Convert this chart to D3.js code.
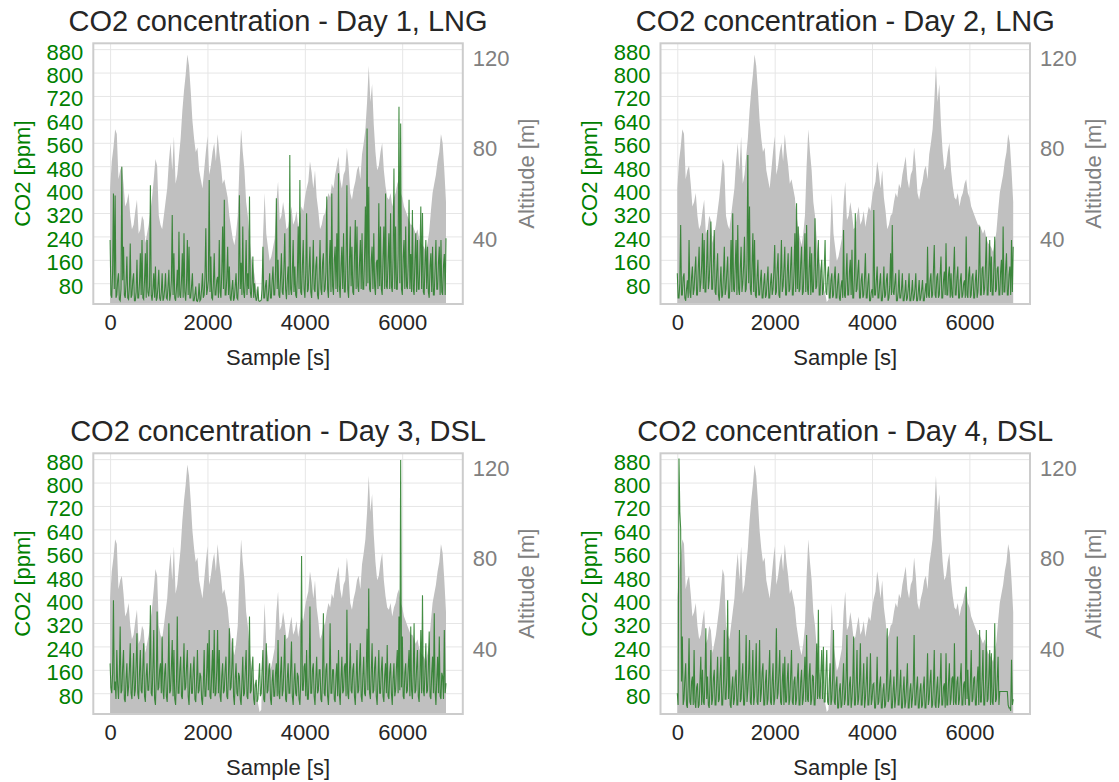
<!DOCTYPE html>
<html>
<head>
<meta charset="utf-8">
<style>
  body { margin: 0; background: #fff; }
  text { font-family: "Liberation Sans", Arial, sans-serif; }
</style>
</head>
<body></body>

<script src="https://d3js.org/d3.v7.min.js"></script>
<script>
    // altitude of the route [m], one value every altStep seconds (same route every day)
    const altitude = [62, 74, 80, 88, 86, 66, 70, 72, 64, 54, 56, 60, 50, 44, 46, 52, 57, 42, 44, 50,
        48, 38, 42, 46, 52, 58, 66, 75, 72, 50, 46, 44, 50, 56, 62, 74, 82, 70, 85, 64,
        68, 76, 84, 96, 105, 112, 121, 116, 105, 92, 84, 78, 80, 70, 66, 62, 70, 78, 85, 68,
        72, 78, 82, 74, 86, 78, 72, 64, 66, 62, 58, 50, 45, 40, 37, 42, 50, 72, 88, 78,
        70, 56, 50, 40, 32, 28, 24, 18, 16, 12, 13, 40, 60, 42, 36, 30, 32, 36, 40, 56,
        65, 48, 50, 56, 51, 44, 45, 50, 54, 46, 48, 52, 45, 50, 54, 52, 58, 62, 65, 74,
        69, 62, 70, 58, 52, 44, 46, 50, 51, 56, 60, 58, 64, 62, 68, 72, 76, 66, 62, 68,
        70, 80, 72, 60, 57, 62, 65, 70, 72, 66, 77, 82, 88, 100, 116, 100, 108, 90, 78, 70,
        72, 78, 82, 70, 63, 58, 57, 60, 54, 58, 60, 64, 66, 60, 58, 54, 52, 50, 48, 46,
        46, 44, 42, 44, 40, 38, 37, 36, 34, 38, 43, 52, 60, 64, 68, 74, 78, 86, 82, 70,
        56];
    const altStep = 34.5;

    // CO2 [ppm], one value every co2Step seconds
    const co2Day1 = [228, 40, 30, 120, 387, 60, 380, 30, 40, 90, 114, 25, 20, 60, 478, 90, 205, 40, 30, 80,
        171, 30, 25, 70, 216, 30, 40, 90, 114, 20, 20, 50, 160, 30, 30, 80, 182, 40, 228, 30,
        25, 90, 182, 30, 228, 50, 35, 70, 415, 40, 20, 60, 114, 30, 137, 20, 30, 70, 126, 30,
        20, 50, 114, 20, 30, 60, 114, 30, 25, 70, 126, 20, 40, 90, 313, 40, 182, 30, 20, 60,
        126, 30, 256, 40, 30, 90, 182, 30, 251, 50, 20, 80, 228, 40, 205, 30, 30, 70, 114, 20,
        20, 40, 69, 20, 18, 30, 80, 20, 25, 60, 114, 30, 40, 100, 268, 40, 60, 90, 433, 50,
        171, 30, 25, 80, 182, 40, 40, 90, 102, 30, 228, 50, 30, 120, 274, 60, 365, 40, 40, 100,
        205, 40, 137, 30, 20, 60, 91, 20, 30, 70, 114, 30, 25, 90, 381, 60, 150, 40, 274, 50,
        30, 90, 228, 40, 114, 60, 376, 50, 30, 80, 171, 30, 80, 40, 20, 30, 69, 20, 18, 20,
        23, 60, 205, 30, 30, 70, 91, 20, 20, 60, 114, 30, 30, 90, 137, 40, 40, 120, 370, 60,
        160, 40, 30, 100, 182, 50, 40, 130, 251, 60, 25, 90, 137, 40, 518, 60, 40, 120, 228, 50,
        137, 40, 30, 110, 274, 60, 433, 50, 40, 140, 228, 60, 30, 120, 319, 50, 60, 130, 205, 50,
        30, 110, 228, 60, 50, 140, 171, 40, 25, 100, 228, 60, 40, 150, 182, 50, 60, 120, 376, 60,
        30, 140, 228, 50, 387, 70, 40, 160, 205, 60, 251, 50, 456, 70, 30, 140, 205, 60, 251, 50,
        50, 160, 415, 60, 30, 150, 274, 70, 205, 50, 40, 170, 296, 60, 274, 70, 50, 150, 228, 60,
        251, 60, 60, 170, 342, 70, 609, 80, 410, 60, 50, 160, 205, 60, 251, 70, 40, 150, 160, 60,
        353, 70, 274, 60, 40, 170, 274, 60, 387, 70, 60, 160, 251, 60, 319, 70, 50, 170, 472, 60,
        274, 60, 60, 180, 683, 80, 626, 60, 40, 170, 228, 60, 274, 70, 60, 150, 365, 60, 180, 50,
        330, 60, 40, 160, 251, 50, 228, 60, 60, 170, 342, 60, 320, 50, 40, 150, 228, 60, 205, 50,
        30, 140, 182, 50, 205, 40, 40, 130, 228, 60, 60, 150, 205, 40, 228, 50, 40, 140, 180, 40,
        234];
    const co2Day2 = [114, 30, 30, 80, 279, 40, 40, 100, 114, 30, 20, 60, 90, 30, 228, 50, 30, 100, 137, 40,
        60, 120, 171, 40, 40, 130, 205, 50, 80, 140, 251, 60, 228, 50, 50, 150, 262, 60, 90, 160,
        291, 60, 60, 150, 262, 50, 40, 120, 182, 40, 20, 80, 137, 30, 40, 110, 205, 40, 60, 120,
        171, 30, 30, 100, 228, 50, 319, 60, 50, 140, 228, 40, 279, 60, 40, 130, 205, 50, 80, 140,
        239, 50, 60, 150, 518, 80, 342, 60, 40, 140, 251, 50, 228, 40, 30, 100, 160, 40, 40, 90,
        126, 30, 30, 80, 114, 30, 40, 90, 137, 30, 30, 80, 114, 40, 60, 120, 211, 40, 50, 130,
        182, 40, 30, 110, 228, 50, 70, 130, 205, 40, 40, 120, 182, 50, 60, 140, 205, 40, 40, 120,
        251, 50, 353, 60, 274, 50, 60, 150, 205, 40, 50, 140, 251, 50, 279, 60, 40, 130, 205, 40,
        182, 50, 50, 140, 302, 60, 70, 150, 228, 40, 40, 120, 160, 40, 60, 130, 228, 50, 40, 110,
        137, 30, 30, 90, 114, 30, 40, 100, 137, 30, 30, 80, 114, 30, 20, 70, 90, 30, 262, 40,
        30, 100, 182, 40, 40, 120, 160, 40, 194, 30, 30, 110, 319, 50, 60, 120, 160, 30, 30, 90,
        114, 30, 40, 100, 182, 30, 30, 80, 114, 20, 20, 50, 60, 30, 330, 40, 40, 90, 137, 30,
        30, 80, 114, 20, 20, 60, 137, 30, 40, 90, 114, 20, 30, 70, 182, 40, 279, 50, 40, 80,
        114, 20, 20, 50, 126, 30, 30, 60, 114, 20, 20, 50, 91, 20, 30, 60, 114, 20, 20, 50,
        91, 20, 30, 60, 114, 20, 20, 50, 91, 20, 30, 60, 91, 20, 20, 50, 80, 30, 205, 40,
        30, 90, 114, 30, 40, 120, 211, 40, 30, 100, 114, 30, 40, 110, 171, 30, 30, 90, 120, 40,
        217, 40, 40, 110, 137, 30, 114, 40, 30, 120, 205, 40, 40, 100, 137, 30, 30, 90, 114, 30,
        40, 80, 90, 30, 240, 40, 30, 110, 137, 30, 40, 100, 114, 30, 30, 90, 126, 30, 50, 120,
        274, 40, 40, 130, 137, 40, 60, 140, 239, 40, 40, 130, 228, 50, 171, 40, 40, 140, 239, 50,
        60, 130, 137, 40, 40, 120, 160, 40, 274, 50, 50, 130, 182, 40, 40, 110, 137, 40, 228, 50,
        205];
    const co2Day3 = [182, 100, 80, 150, 398, 90, 120, 60, 228, 110, 60, 140, 308, 80, 90, 170, 228, 60, 50, 130,
        182, 70, 100, 160, 251, 80, 60, 140, 217, 70, 90, 180, 285, 80, 60, 150, 228, 90, 80, 170,
        251, 70, 50, 140, 182, 90, 90, 160, 381, 80, 70, 170, 296, 60, 40, 130, 359, 90, 100, 160,
        182, 80, 274, 90, 60, 150, 182, 70, 50, 140, 319, 80, 90, 170, 262, 70, 228, 60, 40, 120,
        342, 80, 80, 160, 205, 70, 60, 150, 251, 90, 100, 170, 228, 70, 40, 130, 182, 80, 80, 160,
        205, 60, 50, 120, 228, 80, 90, 150, 137, 60, 40, 110, 228, 70, 70, 150, 251, 90, 296, 70,
        60, 150, 228, 80, 296, 70, 80, 160, 296, 80, 228, 70, 50, 140, 182, 80, 90, 160, 205, 70,
        60, 150, 302, 90, 100, 170, 268, 70, 40, 130, 182, 80, 70, 150, 137, 60, 40, 120, 205, 70,
        80, 160, 228, 70, 60, 150, 342, 80, 90, 170, 205, 60, 40, 110, 126, 50, 60, 130, 182, 70,
        80, 160, 228, 60, 50, 130, 251, 80, 90, 160, 182, 60, 40, 120, 160, 70, 70, 150, 182, 70,
        262, 80, 60, 150, 205, 70, 90, 170, 279, 60, 50, 130, 182, 80, 80, 160, 257, 70, 40, 120,
        182, 80, 70, 150, 137, 60, 40, 120, 549, 90, 90, 170, 182, 70, 228, 60, 60, 140, 376, 80,
        80, 160, 182, 70, 40, 130, 205, 80, 90, 160, 160, 60, 50, 140, 353, 80, 70, 160, 182, 70,
        40, 130, 319, 80, 80, 160, 160, 60, 50, 140, 182, 70, 228, 80, 40, 130, 205, 80, 90, 170,
        182, 70, 365, 80, 60, 150, 251, 90, 80, 160, 182, 70, 40, 130, 228, 80, 90, 170, 251, 70,
        50, 140, 205, 80, 70, 160, 300, 90, 438, 80, 60, 150, 251, 80, 90, 170, 205, 70, 40, 130,
        228, 80, 80, 160, 205, 70, 50, 140, 182, 80, 245, 70, 60, 150, 182, 80, 40, 130, 182, 70,
        90, 170, 228, 80, 342, 90, 877, 100, 274, 70, 60, 150, 182, 80, 90, 170, 228, 70, 308, 90,
        60, 150, 319, 80, 90, 170, 228, 70, 50, 140, 296, 80, 415, 90, 70, 160, 251, 80, 90, 170,
        291, 70, 60, 150, 205, 80, 353, 90, 40, 130, 205, 80, 274, 70, 60, 150, 137, 60, 296, 80,
        114];
    const co2Day4 = [80, 40, 882, 700, 643, 120, 274, 40, 60, 130, 182, 40, 30, 110, 268, 50, 40, 120, 137, 40,
        228, 50, 30, 100, 114, 30, 40, 120, 205, 40, 160, 50, 40, 130, 302, 60, 137, 40, 30, 110,
        228, 40, 60, 130, 160, 40, 40, 120, 205, 50, 60, 140, 205, 40, 40, 120, 296, 60, 60, 140,
        398, 60, 205, 40, 30, 100, 137, 40, 60, 130, 160, 40, 40, 120, 296, 50, 60, 130, 182, 40,
        40, 120, 279, 50, 90, 150, 262, 50, 40, 130, 228, 40, 70, 140, 251, 50, 40, 120, 262, 50,
        80, 150, 182, 40, 40, 120, 160, 40, 60, 140, 228, 50, 40, 120, 182, 40, 60, 130, 302, 60,
        80, 150, 228, 50, 40, 120, 182, 40, 205, 50, 50, 130, 182, 40, 60, 140, 228, 50, 40, 120,
        137, 40, 60, 130, 182, 40, 40, 120, 160, 40, 60, 130, 205, 50, 279, 60, 50, 140, 182, 40,
        60, 140, 137, 40, 40, 130, 250, 60, 365, 70, 60, 150, 228, 60, 239, 50, 50, 150, 228, 50,
        40, 120, 182, 40, 60, 130, 296, 50, 40, 110, 137, 30, 30, 90, 114, 30, 40, 110, 182, 40,
        60, 130, 279, 40, 40, 110, 137, 30, 60, 120, 274, 40, 40, 110, 228, 40, 60, 120, 251, 40,
        40, 110, 182, 30, 60, 120, 205, 40, 40, 100, 217, 40, 60, 110, 114, 30, 30, 90, 205, 40,
        50, 110, 137, 30, 30, 90, 114, 30, 40, 100, 302, 50, 60, 120, 160, 30, 30, 90, 137, 30,
        60, 110, 274, 40, 40, 100, 160, 30, 30, 90, 137, 30, 50, 110, 182, 30, 30, 90, 114, 30,
        60, 110, 279, 40, 40, 100, 137, 30, 30, 90, 114, 30, 40, 100, 137, 30, 30, 90, 217, 40,
        60, 120, 160, 30, 40, 110, 228, 40, 30, 100, 137, 30, 50, 120, 217, 40, 40, 100, 114, 30,
        217, 40, 40, 120, 182, 40, 60, 130, 137, 40, 251, 50, 40, 120, 137, 40, 60, 130, 182, 40,
        40, 110, 120, 40, 444, 60, 160, 40, 40, 120, 228, 50, 60, 130, 137, 40, 40, 120, 171, 40,
        296, 50, 50, 130, 228, 40, 40, 120, 296, 50, 60, 140, 228, 40, 217, 50, 40, 120, 319, 50,
        60, 130, 205, 40, 86, 86, 86, 86, 86, 86, 86, 86, 86, 86, 40, 30, 30, 20, 194, 40,
        60];
    const co2Step = 17.25;

    const titles = ["CO2 concentration - Day 1, LNG", "CO2 concentration - Day 2, LNG",
        "CO2 concentration - Day 3, DSL", "CO2 concentration - Day 4, DSL"];
    const co2Ticks = [80, 160, 240, 320, 400, 480, 560, 640, 720, 800, 880];
    const altTicks = [40, 80, 120];
    const sampleTicks = [0, 2000, 4000, 6000];

    const width = 1119;
    const height = 782;
    const panelW = 369.5;
    const panelH = 260.7;
    const panels = [
        { x: 93.3, y: 43.3, co2: co2Day1 },
        { x: 660.5, y: 43.3, co2: co2Day2 },
        { x: 93.3, y: 453.3, co2: co2Day3 },
        { x: 660.5, y: 453.3, co2: co2Day4 }
    ];

    var x_scale = d3.scaleLinear().domain([-345, 7245]).range([0, panelW]);
    var co2_scale = d3.scaleLinear().domain([9, 900]).range([panelH, 0]);
    var alt_scale = d3.scaleLinear().domain([11.1, 125.9]).range([panelH, 0]);

    var svg = d3.select("body")
        .append("svg")
        .attr("width", width)
        .attr("height", height);

    var altArea = d3.area()
        .x(function (d, i) { return x_scale(i * altStep); })
        .y0(panelH)
        .y1(function (d) { return alt_scale(d); });
    var co2Line = d3.line()
        .x(function (d, i) { return x_scale(i * co2Step); })
        .y(function (d) { return co2_scale(d); });

    panels.forEach(function (p, i) {
        var g = svg.append("g")
            .attr("transform", "translate(" + p.x + "," + p.y + ")");

        g.append("clipPath").attr("id", "clip" + i)
            .append("rect").attr("width", panelW).attr("height", panelH);

        // grid
        g.append("g").attr("class", "grid")
            .call(d3.axisLeft(co2_scale).tickValues(co2Ticks).tickSize(-panelW).tickFormat(""));
        g.append("g").attr("class", "grid")
            .attr("transform", "translate(0," + panelH + ")")
            .call(d3.axisBottom(x_scale).tickValues(sampleTicks).tickSize(-panelH).tickFormat(""));
        g.selectAll(".grid .domain").remove();
        g.selectAll(".grid line").attr("stroke", "#e6e6e6").attr("stroke-width", 1);

        // altitude (grey) and CO2 (green)
        g.append("path")
            .datum(altitude)
            .attr("clip-path", "url(#clip" + i + ")")
            .attr("fill", "#c0c0c0")
            .attr("d", altArea);
        g.append("path")
            .datum(p.co2)
            .attr("clip-path", "url(#clip" + i + ")")
            .attr("fill", "none")
            .attr("stroke", "#237a23")
            .attr("stroke-opacity", 0.85)
            .attr("stroke-width", 1.1)
            .attr("stroke-linejoin", "miter")
            .attr("d", co2Line);

        // frame
        g.append("rect")
            .attr("width", panelW).attr("height", panelH)
            .attr("fill", "none").attr("stroke", "#cccccc").attr("stroke-width", 2);

        // axes
        var left = g.append("g")
            .call(d3.axisLeft(co2_scale).tickValues(co2Ticks).tickSize(0).tickPadding(10));
        left.selectAll("text").attr("fill", "green").style("font-size", "22px").attr("dy", "0.45em");

        var right = g.append("g")
            .attr("transform", "translate(" + panelW + ",0)")
            .call(d3.axisRight(alt_scale).tickValues(altTicks).tickSize(0).tickPadding(10));
        right.selectAll("text").attr("fill", "#808080").style("font-size", "22px").attr("dy", "0.38em");

        var bottom = g.append("g")
            .attr("transform", "translate(0," + panelH + ")")
            .call(d3.axisBottom(x_scale).tickValues(sampleTicks).tickSize(0).tickPadding(10.5).tickFormat(d3.format("d")));
        bottom.selectAll("text").attr("fill", "#262626").style("font-size", "22px");

        svg.selectAll(".domain").remove();

        // texts
        g.append("text")
            .attr("x", panelW / 2).attr("y", -12)
            .style("text-anchor", "middle")
            .style("font-size", "29px")
            .attr("fill", "#262626")
            .text(titles[i]);
        g.append("text")
            .attr("x", panelW / 2).attr("y", panelH + 61)
            .style("text-anchor", "middle")
            .style("font-size", "22px")
            .attr("fill", "#262626")
            .text("Sample [s]");
        g.append("text")
            .attr("transform", "translate(-71," + panelH / 2 + ") rotate(-90)")
            .attr("dy", "0.35em")
            .style("text-anchor", "middle")
            .style("font-size", "22px")
            .attr("fill", "green")
            .text("CO2 [ppm]");
        g.append("text")
            .attr("transform", "translate(" + (panelW + 63) + "," + panelH / 2 + ") rotate(-90)")
            .attr("dy", "0.35em")
            .style("text-anchor", "middle")
            .style("font-size", "22px")
            .attr("fill", "#808080")
            .text("Altitude [m]");
    });
</script>
</html>
